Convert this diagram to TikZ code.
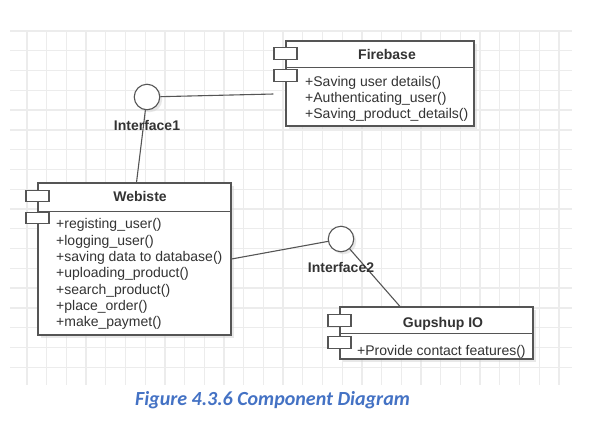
\documentclass[tikz,border=0pt]{standalone}
\usepackage{fontspec}
\setmainfont{Liberation Sans}
\newfontfamily\capfont{Carlito}
\usepackage{tikz}
\usetikzlibrary{positioning, shadows}
\definecolor{myline}{RGB}{85, 85, 85}
\definecolor{mytext}{RGB}{51, 51, 51}
\definecolor{mygrid}{RGB}{236, 236, 236}
\definecolor{mycap}{RGB}{68, 114, 196}
\definecolor{myshadow}{gray}{0.82}

\tikzset{
    gridline/.style={draw=mygrid, line width=1.3pt},
    umlline/.style={draw=myline, line width=1.1pt},
    compbox/.style={rectangle, umlline, fill=white, inner sep=0pt,
        drop shadow={shadow xshift=2.5pt, shadow yshift=-2.5pt, fill=myshadow, opacity=0.5}},
    port/.style={rectangle, umlline, fill=white, inner sep=0pt, minimum width=23pt, minimum height=11.5pt},
    iface/.style={circle, umlline, fill=white, inner sep=0pt, minimum size=25.5pt,
        drop shadow={shadow xshift=2.5pt, shadow yshift=-2.5pt, fill=myshadow, opacity=0.5}},
    comptitle/.style={anchor=base, inner sep=0pt, text=mytext, font=\fontsize{14}{16.3}\selectfont\bfseries},
    methods/.style={anchor=north west, inner sep=0pt, align=left, text=mytext, font=\fontsize{14}{16.3}\selectfont},
    connector/.style={umlline}
}

\begin{document}
\begin{tikzpicture}[x=1pt, y=-1pt]
    \useasboundingbox (0,0) rectangle (615,432);

    % grid
    \foreach \gx in {0,...,27}
        \draw[gridline] ({27+19.7*\gx},31) -- ({27+19.7*\gx},385);
    \foreach \gy in {0,...,17}
        \draw[gridline] (10,{31+19.78*\gy}) -- (572,{31+19.78*\gy});

    % Firebase
    \node[compbox, minimum width=188pt, minimum height=85pt] (fb) at (380, 83.5) {};
    \draw[umlline] ([yshift=-27pt]fb.north west) -- ([yshift=-27pt]fb.north east);
    \node[port] (fbp1) at ([yshift=-13pt]fb.north west) {};
    \node[port, below=9.5pt of fbp1] (fbp2) {};
    \node[comptitle] (fbt) at (387, 59) {Firebase};
    \node[methods] (fbm) at (305, 76) {+Saving user details()\\+Authenticating\_user()\\+Saving\_product\_details()};

    % Webiste
    \node[compbox, minimum width=193pt, minimum height=152pt] (web) at (134.5, 259) {};
    \draw[umlline] ([yshift=-29pt]web.north west) -- ([yshift=-29pt]web.north east);
    \node[port] (webp1) at ([yshift=-13.5pt]web.north west) {};
    \node[port, below=9.5pt of webp1] (webp2) {};
    \node[comptitle] (webt) at (140, 201) {Webiste};
    \node[methods] (webm) at (56, 218.5) {+registing\_user()\\+logging\_user()\\+saving data to database()\\+uploading\_product()\\+search\_product()\\+place\_order()\\+make\_paymet()};

    % Gupshup IO
    \node[compbox, minimum width=193pt, minimum height=52pt] (gup) at (436.5, 333) {};
    \draw[umlline] ([yshift=-27pt]gup.north west) -- ([yshift=-27pt]gup.north east);
    \node[port] (gupp1) at ([yshift=-14pt]gup.north west) {};
    \node[port, below=9.5pt of gupp1] (gupp2) {};
    \node[comptitle] (gupt) at (443, 327) {Gupshup IO};
    \node[methods] (gupm) at (357, 345) {+Provide contact features()};

    % interfaces
    \node[iface] (if1) at (147, 97) {};
    \node[iface] (if2) at (341, 239) {};
    \draw[connector] (if1) -- ([xshift=-12pt, yshift=-10.5pt]fb.west);
    \draw[connector] (if1) -- ([xshift=2pt]web.north);
    \draw[connector] (web.east) -- (if2);
    \draw[connector] (if2) -- ([xshift=-36.5pt]gup.north);
    \node[comptitle] (if1l) at (147, 130) {Interface1};
    \node[comptitle] (if2l) at (341, 272) {Interface2};

    % caption
    \node[anchor=base, inner sep=0pt, text=mycap, font=\capfont\fontsize{20}{24}\selectfont\bfseries\itshape] (cap) at (272.5, 405.5) {Figure 4.3.6 Component Diagram};
\end{tikzpicture}
\end{document}
